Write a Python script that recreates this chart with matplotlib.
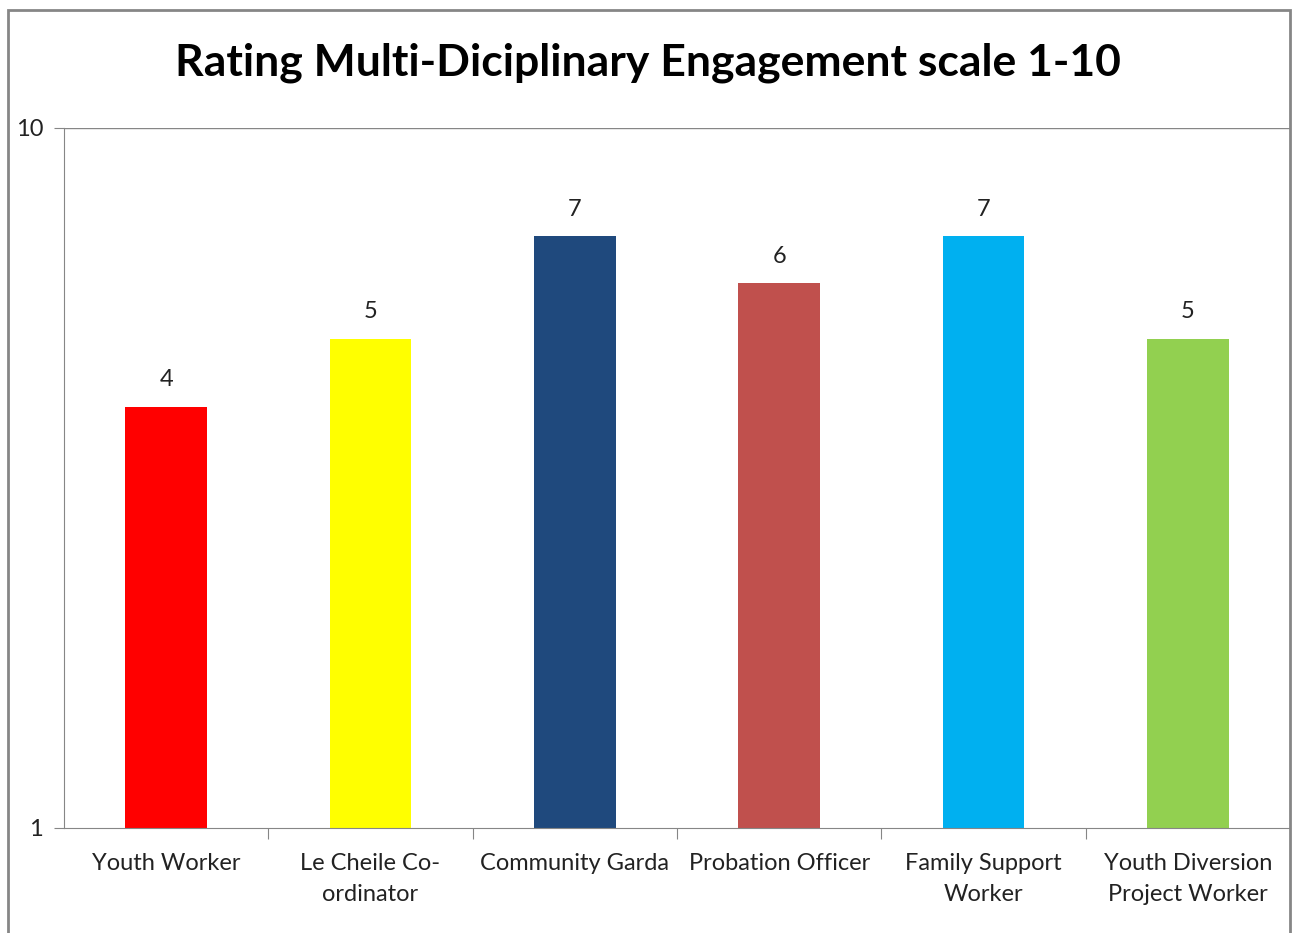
import matplotlib.pyplot as plt
from matplotlib.patches import Rectangle
from matplotlib.ticker import FixedLocator, NullLocator

roles = ['Youth Worker', 'Le Cheile Co-\nordinator', 'Community Garda',
         'Probation Officer', 'Family Support\nWorker', 'Youth Diversion\nProject Worker']
ratings = [4, 5, 7, 6, 7, 5]
colors = ['#FF0000', '#FFFF00', '#1F497D', '#C0504D', '#00B0F0', '#92D050']

plt.rcParams['font.family'] = ['Lato', 'DejaVu Sans']

fig = plt.figure(figsize=(12.95, 9.33), dpi=100)
ax = fig.add_axes([64 / 1295, 1 - 828 / 933, (1290 - 64) / 1295, 700 / 933])

# outer chart border (bottom edge runs off the image)
fig.patches.append(Rectangle((8 / 1295, -0.05), (1290 - 8) / 1295, 1.05 - 10 / 933,
                             transform=fig.transFigure, fill=False,
                             edgecolor='#868686', linewidth=2))

x = list(range(len(roles)))
ax.set_yscale('log')
ax.bar(x, ratings, width=0.4, color=colors)
ax.set_ylim(1, 10)
ax.set_xlim(-0.5, len(roles) - 0.5)

ax.yaxis.set_major_locator(FixedLocator([1, 10]))
ax.yaxis.set_minor_locator(NullLocator())
ax.set_yticklabels(['1', '10'])
ax.axhline(10, color='#868686', linewidth=1)

ax.set_xticks([i + 0.5 for i in range(len(roles) - 1)])
ax.set_xticklabels([])
ax.set_xticks(x, minor=True)
ax.set_xticklabels(roles, minor=True)
ax.tick_params(axis='x', which='minor', length=0, pad=18, labelsize=17, colors='#222222')
ax.tick_params(axis='x', which='major', length=8, color='#868686')
ax.tick_params(axis='y', length=7, color='#868686', pad=8, labelsize=17, labelcolor='#222222')
for lbl in ax.get_xticklabels(minor=True):
    lbl.set_linespacing(1.6)

for s in ['top', 'right']:
    ax.spines[s].set_visible(False)
for s in ['left', 'bottom']:
    ax.spines[s].set_color('#868686')

for i, v in enumerate(ratings):
    ax.annotate(str(v), (i, v), xytext=(0, 12), textcoords='offset points',
                ha='center', va='bottom', fontsize=17, color='#222222')

fig.text(0.5, 1 - 63 / 933, 'Rating Multi-Diciplinary Engagement scale 1-10',
         ha='center', va='center', fontsize=32, fontweight='bold', color='black')

fig.savefig('out.png', dpi=100)
